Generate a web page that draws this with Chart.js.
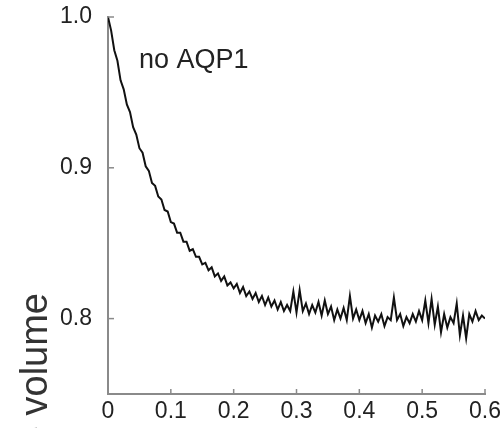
<!DOCTYPE html>
<html>
<head>
<meta charset="utf-8">
<script src="https://cdn.jsdelivr.net/npm/chart.js@4/dist/chart.umd.min.js"></script>
<style>
  body { margin: 0; background: #fff; }
  #wrap { width: 503px; height: 428px; }
</style>
</head>
<body>
<div id="wrap"><canvas id="volume_chart" width="503" height="428"></canvas></div>
<script>
// time (s) and relative volume
const timeValues = [
  0.000, 0.005, 0.010, 0.015, 0.020, 0.025, 0.030, 0.035, 0.040, 0.045,
  0.050, 0.055, 0.060, 0.065, 0.070, 0.075, 0.080, 0.085, 0.090, 0.095,
  0.100, 0.105, 0.110, 0.115, 0.120, 0.125, 0.130, 0.135, 0.140, 0.145,
  0.150, 0.155, 0.160, 0.165, 0.170, 0.175, 0.180, 0.185, 0.190, 0.195,
  0.200, 0.205, 0.210, 0.215, 0.220, 0.225, 0.230, 0.235, 0.240, 0.245,
  0.250, 0.255, 0.260, 0.265, 0.270, 0.275, 0.280, 0.285, 0.290, 0.295,
  0.300, 0.305, 0.310, 0.315, 0.320, 0.325, 0.330, 0.335, 0.340, 0.345,
  0.350, 0.355, 0.360, 0.365, 0.370, 0.375, 0.380, 0.385, 0.390, 0.395,
  0.400, 0.405, 0.410, 0.415, 0.420, 0.425, 0.430, 0.435, 0.440, 0.445,
  0.450, 0.455, 0.460, 0.465, 0.470, 0.475, 0.480, 0.485, 0.490, 0.495,
  0.500, 0.505, 0.510, 0.515, 0.520, 0.525, 0.530, 0.535, 0.540, 0.545,
  0.550, 0.555, 0.560, 0.565, 0.570, 0.575, 0.580, 0.585, 0.590, 0.595,
  0.600
];
const volumeValues = [
  1.000, 0.991, 0.978, 0.971, 0.958, 0.952, 0.942, 0.937, 0.927, 0.922,
  0.913, 0.910, 0.901, 0.898, 0.890, 0.888, 0.881, 0.879, 0.872, 0.871,
  0.864, 0.863, 0.857, 0.857, 0.851, 0.851, 0.845, 0.846, 0.841, 0.841,
  0.836, 0.837, 0.832, 0.834, 0.828, 0.830, 0.825, 0.828, 0.822, 0.824,
  0.820, 0.823, 0.817, 0.821, 0.815, 0.818, 0.813, 0.817, 0.811, 0.815,
  0.809, 0.814, 0.808, 0.812, 0.806, 0.811, 0.805, 0.809, 0.805, 0.818,
  0.804, 0.819, 0.805, 0.810, 0.803, 0.809, 0.804, 0.811, 0.802, 0.812,
  0.803, 0.808, 0.799, 0.806, 0.800, 0.807, 0.799, 0.815, 0.800, 0.806,
  0.799, 0.805, 0.797, 0.803, 0.794, 0.802, 0.798, 0.803, 0.795, 0.801,
  0.799, 0.814, 0.799, 0.803, 0.795, 0.801, 0.797, 0.803, 0.798, 0.805,
  0.799, 0.812, 0.797, 0.813, 0.796, 0.808, 0.791, 0.803, 0.794, 0.801,
  0.797, 0.810, 0.789, 0.802, 0.787, 0.803, 0.798, 0.805, 0.799, 0.802,
  0.800
];
const xTicks = [0, 0.1, 0.2, 0.3, 0.4, 0.5, 0.6];
const yTicks = [0.8, 0.9, 1.0];
const panelLabel = "no AQP1";
const yTitle = "Relative volume";

const tickFont = { family: "'Liberation Sans', Arial, sans-serif", size: 23 };

// inward tick marks + panel label + cut-off y title
const decorations = {
  id: "decorations",
  afterDraw(chart) {
    const ctx = chart.ctx;
    const xs = chart.scales.x;
    const ys = chart.scales.y;
    const area = chart.chartArea;
    ctx.save();
    ctx.strokeStyle = "#8a8a8a";
    ctx.lineWidth = 1.5;
    xTicks.forEach(function (v) {
      const px = xs.getPixelForValue(v);
      ctx.beginPath();
      ctx.moveTo(px, area.bottom);
      ctx.lineTo(px, area.bottom - 5);
      ctx.stroke();
    });
    yTicks.forEach(function (v) {
      const py = ys.getPixelForValue(v);
      ctx.beginPath();
      ctx.moveTo(area.left, py);
      ctx.lineTo(area.left + 6, py);
      ctx.stroke();
    });

    ctx.fillStyle = "#222";
    ctx.font = "27px 'Liberation Sans', Arial, sans-serif";
    ctx.textAlign = "left";
    ctx.textBaseline = "alphabetic";
    ctx.fillText(panelLabel, 139, 68);

    ctx.translate(47, 293);
    ctx.rotate(-Math.PI / 2);
    ctx.font = "38px 'Liberation Sans', Arial, sans-serif";
    ctx.fillStyle = "#333";
    ctx.textAlign = "right";
    ctx.fillText(yTitle, 0, 0);
    ctx.restore();
  },
};

const ctx = document.getElementById("volume_chart");
new Chart(ctx, {
  type: "line",
  data: {
    datasets: [
      {
        data: timeValues.map(function (t, i) {
          return { x: t, y: volumeValues[i] };
        }),
        borderColor: "#111",
        borderWidth: 2,
        pointRadius: 0,
        tension: 0,
        fill: false,
      },
    ],
  },
  options: {
    responsive: false,
    animation: false,
    layout: {
      padding: { left: 0, top: 17, right: 18, bottom: 0 },
    },
    plugins: {
      legend: { display: false },
      tooltip: { enabled: false },
    },
    scales: {
      x: {
        type: "linear",
        min: 0,
        max: 0.6,
        afterBuildTicks: function (scale) {
          scale.ticks = xTicks.map(function (v) {
            return { value: v };
          });
        },
        afterFit: function (scale) {
          scale.height = 34;
          scale.paddingLeft = 0;
          scale.paddingRight = 0;
        },
        ticks: {
          color: "#222",
          font: tickFont,
          padding: 4,
          maxRotation: 0,
          callback: function (value) {
            return String(Math.round(value * 10) / 10);
          },
        },
        grid: { display: false, drawTicks: false },
        border: { color: "#8a8a8a", width: 2 },
      },
      y: {
        min: 0.75,
        max: 1.0,
        afterBuildTicks: function (scale) {
          scale.ticks = yTicks.map(function (v) {
            return { value: v };
          });
        },
        afterFit: function (scale) {
          scale.width = 108;
          scale.paddingTop = 0;
          scale.paddingBottom = 0;
        },
        ticks: {
          color: "#222",
          font: tickFont,
          padding: 16,
          callback: function (value) {
            return value.toFixed(1);
          },
        },
        grid: { display: false, drawTicks: false },
        border: { color: "#8a8a8a", width: 2 },
      },
    },
  },
  plugins: [decorations],
});
</script>
</body>
</html>
